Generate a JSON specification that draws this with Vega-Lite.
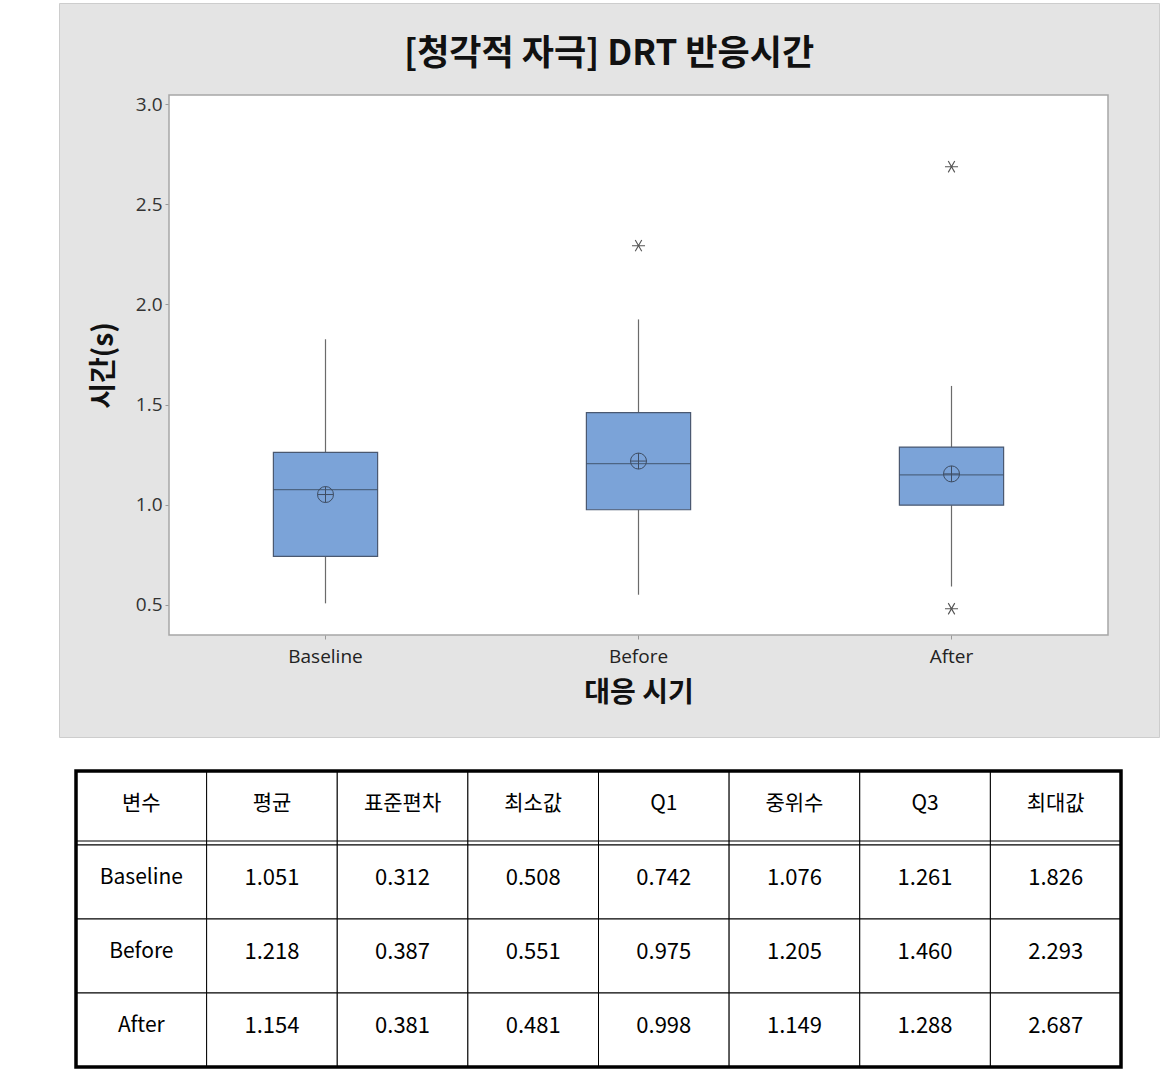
{
  "$schema": "https://vega.github.io/schema/vega-lite/v6.json",
  "padding": {"left": 58, "top": 2, "right": 0, "bottom": 0},
  "background": "white",
  "spacing": 31,
  "config": {"view": {"stroke": null}, "font": "Noto Sans CJK KR"},
  "datasets": {
    "stats": [
      {"변수": "Baseline", "평균": 1.051, "표준편차": 0.312, "최소값": 0.508, "Q1": 0.742, "중위수": 1.076, "Q3": 1.261, "최대값": 1.826, "whisker_lo": 0.508, "whisker_hi": 1.826},
      {"변수": "Before", "평균": 1.218, "표준편차": 0.387, "최소값": 0.551, "Q1": 0.975, "중위수": 1.205, "Q3": 1.46, "최대값": 2.293, "whisker_lo": 0.551, "whisker_hi": 1.925},
      {"변수": "After", "평균": 1.154, "표준편차": 0.381, "최소값": 0.481, "Q1": 0.998, "중위수": 1.149, "Q3": 1.288, "최대값": 2.687, "whisker_lo": 0.592, "whisker_hi": 1.593}
    ],
    "outliers": [
      {"변수": "Before", "time": 2.293},
      {"변수": "After", "time": 2.687},
      {"변수": "After", "time": 0.481}
    ],
    "columns": [
      {"col": "변수"}, {"col": "평균"}, {"col": "표준편차"}, {"col": "최소값"},
      {"col": "Q1"}, {"col": "중위수"}, {"col": "Q3"}, {"col": "최대값"}
    ]
  },
  "vconcat": [
    {
      "width": 1100,
      "height": 734,
      "view": {"fill": "#E4E4E4", "stroke": "#CDCDCD", "strokeWidth": 1},
      "title": {
        "text": "[청각적 자극] DRT 반응시간",
        "font": "Noto Sans CJK KR",
        "fontSize": 35,
        "fontWeight": "bold",
        "color": "#111111",
        "anchor": "middle",
        "baseline": "bottom",
        "offset": -66,
        "dy": 38
      },
      "layer": [
        {
          "data": {"values": [{}]},
          "mark": {"type": "rect", "fill": "white", "stroke": "#A6A6A6", "strokeWidth": 1.5},
          "encoding": {
            "x": {
              "datum": "Baseline", "type": "nominal", "bandPosition": 0,
              "scale": {"domain": ["Baseline", "Before", "After"], "range": [110, 1049], "paddingInner": 0, "paddingOuter": 0},
              "axis": {
                "title": "대응 시기", "orient": "bottom", "offset": -102, "labelAngle": 0,
                "domain": false, "grid": false, "ticks": true, "tickSize": 4, "tickColor": "#9A9A9A",
                "labelFont": "Open Sans", "labelFontSize": 19, "labelColor": "#222222", "labelPadding": 8,
                "titleFont": "Noto Sans CJK KR", "titleFontSize": 28, "titleFontWeight": "bold", "titleColor": "#111111", "titlePadding": 13
              }
            },
            "x2": {"datum": "After", "bandPosition": 1},
            "y": {
              "datum": 0.35, "type": "quantitative",
              "scale": {"domain": [0.35, 3.045], "range": [632, 92], "nice": false, "zero": false},
              "axis": {
                "title": "시간(s)", "values": [0.5, 1, 1.5, 2, 2.5, 3], "format": ".1f", "offset": -110,
                "domain": false, "grid": false, "ticks": true, "tickSize": 4, "tickColor": "#9A9A9A",
                "labelFont": "Open Sans", "labelFontSize": 19, "labelColor": "#333333", "labelPadding": 3,
                "titleFont": "Noto Sans CJK KR", "titleFontSize": 28, "titleFontWeight": "bold", "titleColor": "#111111", "titlePadding": 17
              }
            },
            "y2": {"datum": 3.045}
          }
        },
        {
          "data": {"name": "stats"},
          "mark": {"type": "rule", "color": "#6B6B6B", "strokeWidth": 1.2},
          "encoding": {
            "x": {"field": "변수", "type": "nominal"},
            "y": {"field": "whisker_lo", "type": "quantitative"},
            "y2": {"field": "Q1"}
          }
        },
        {
          "data": {"name": "stats"},
          "mark": {"type": "rule", "color": "#6B6B6B", "strokeWidth": 1.2},
          "encoding": {
            "x": {"field": "변수", "type": "nominal"},
            "y": {"field": "Q3", "type": "quantitative"},
            "y2": {"field": "whisker_hi"}
          }
        },
        {
          "data": {"name": "stats"},
          "mark": {"type": "bar", "width": {"band": 0.333}, "fill": "#7BA3D8", "stroke": "#4A5870", "strokeWidth": 1.2},
          "encoding": {
            "x": {"field": "변수", "type": "nominal"},
            "y": {"field": "Q1", "type": "quantitative"},
            "y2": {"field": "Q3"}
          }
        },
        {
          "data": {"name": "stats"},
          "mark": {"type": "tick", "orient": "horizontal", "size": 104, "thickness": 1.3, "color": "#3B4A60"},
          "encoding": {
            "x": {"field": "변수", "type": "nominal"},
            "y": {"field": "중위수", "type": "quantitative"}
          }
        },
        {
          "data": {"name": "stats"},
          "mark": {"type": "point", "shape": "circle", "filled": false, "size": 256, "stroke": "#3E4D63", "strokeWidth": 1, "opacity": 1},
          "encoding": {
            "x": {"field": "변수", "type": "nominal"},
            "y": {"field": "평균", "type": "quantitative"}
          }
        },
        {
          "data": {"name": "stats"},
          "mark": {"type": "point", "shape": "M0,-1L0,1M-1,0L1,0", "filled": false, "size": 256, "stroke": "#3E4D63", "strokeWidth": 1, "opacity": 1},
          "encoding": {
            "x": {"field": "변수", "type": "nominal"},
            "y": {"field": "평균", "type": "quantitative"}
          }
        },
        {
          "data": {"name": "outliers"},
          "mark": {"type": "point", "shape": "M-1,0L1,0M-0.5,-0.866L0.5,0.866M-0.5,0.866L0.5,-0.866", "filled": false, "size": 170, "stroke": "#555555", "strokeWidth": 1.1, "opacity": 1},
          "encoding": {
            "x": {"field": "변수", "type": "nominal"},
            "y": {"field": "time", "type": "quantitative"}
          }
        }
      ]
    },
    {
      "width": 1100,
      "height": 296,
      "view": {"stroke": null},
      "layer": [
        {
          "data": {"name": "columns"},
          "mark": {"type": "rect", "fill": "white", "stroke": "black", "strokeWidth": 1},
          "encoding": {
            "x": {
              "field": "col", "type": "nominal", "axis": null,
              "scale": {"domain": ["변수", "평균", "표준편차", "최소값", "Q1", "중위수", "Q3", "최대값"], "range": [17, 1062], "paddingInner": 0, "paddingOuter": 0}
            },
            "y": {
              "datum": "header", "type": "nominal", "axis": null,
              "scale": {"domain": ["header", "Baseline", "Before", "After"], "range": [0, 296], "paddingInner": 0, "paddingOuter": 0}
            }
          }
        },
        {
          "data": {"name": "columns"},
          "mark": {"type": "text", "font": "Noto Sans CJK KR", "fontSize": 21, "color": "black", "dy": -4},
          "encoding": {
            "x": {"field": "col", "type": "nominal", "axis": null},
            "y": {"datum": "header", "type": "nominal", "axis": null},
            "text": {"field": "col"}
          }
        },
        {
          "data": {"name": "stats"},
          "mark": {"type": "rect", "fill": "white", "stroke": "black", "strokeWidth": 1},
          "encoding": {
            "x": {"datum": "변수", "type": "nominal", "axis": null},
            "y": {"field": "변수", "type": "nominal", "axis": null}
          }
        },
        {
          "data": {"name": "stats"},
          "mark": {"type": "text", "font": "Noto Sans CJK KR", "fontSize": 21, "color": "black", "dy": -4},
          "encoding": {
            "x": {"datum": "변수", "type": "nominal", "axis": null},
            "y": {"field": "변수", "type": "nominal", "axis": null},
            "text": {"field": "변수"}
          }
        },
        {
          "data": {"name": "stats"},
          "transform": [{"fold": ["평균", "표준편차", "최소값", "Q1", "중위수", "Q3", "최대값"], "as": ["key", "value"]}],
          "mark": {"type": "rect", "fill": "white", "stroke": "black", "strokeWidth": 1},
          "encoding": {
            "x": {"field": "key", "type": "nominal", "axis": null},
            "y": {"field": "변수", "type": "nominal", "axis": null}
          }
        },
        {
          "data": {"name": "stats"},
          "transform": [{"fold": ["평균", "표준편차", "최소값", "Q1", "중위수", "Q3", "최대값"], "as": ["key", "value"]}],
          "mark": {"type": "text", "font": "Noto Sans CJK KR", "fontSize": 22, "color": "black", "dy": -4},
          "encoding": {
            "x": {"field": "key", "type": "nominal", "axis": null},
            "y": {"field": "변수", "type": "nominal", "axis": null},
            "text": {"field": "value", "type": "quantitative", "format": ".3f"}
          }
        },
        {
          "data": {"values": [{}]},
          "mark": {"type": "rule", "color": "black", "strokeWidth": 1, "yOffset": -4},
          "encoding": {
            "x": {"datum": "변수", "type": "nominal", "bandPosition": 0, "axis": null},
            "x2": {"datum": "최대값", "bandPosition": 1},
            "y": {"datum": "Baseline", "type": "nominal", "bandPosition": 0, "axis": null}
          }
        },
        {
          "data": {"values": [{}]},
          "mark": {"type": "rect", "fill": null, "stroke": "black", "strokeWidth": 3.5},
          "encoding": {
            "x": {"datum": "변수", "type": "nominal", "bandPosition": 0, "axis": null},
            "x2": {"datum": "최대값", "bandPosition": 1},
            "y": {"datum": "header", "type": "nominal", "bandPosition": 0, "axis": null},
            "y2": {"datum": "After", "bandPosition": 1}
          }
        }
      ]
    }
  ]
}
